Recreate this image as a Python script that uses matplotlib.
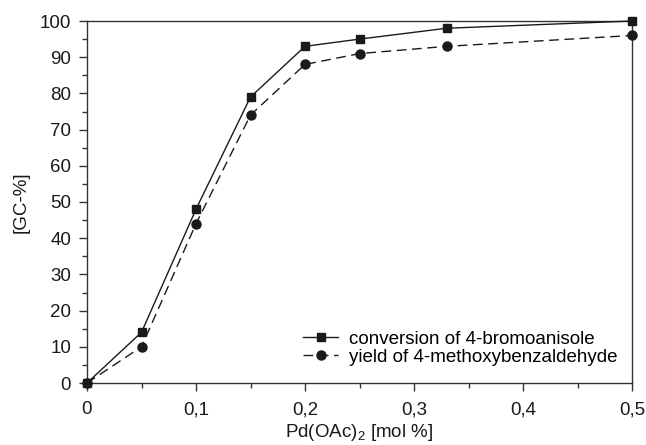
import matplotlib
matplotlib.use("Agg")
import matplotlib.pyplot as plt
from matplotlib.ticker import MultipleLocator, FuncFormatter

plt.rcParams["font.family"] = ["Liberation Sans", "DejaVu Sans"]
plt.rcParams["mathtext.fontset"] = "custom"
plt.rcParams["mathtext.rm"] = "Liberation Sans"

pd_loading = [0, 0.05, 0.1, 0.15, 0.2, 0.25, 0.33, 0.5]
conversion = [0, 14, 48, 79, 93, 95, 98, 100]
yield_ald = [0, 10, 44, 74, 88, 91, 93, 96]

W, H = 646, 445
fig = plt.figure(figsize=(W / 100, H / 100), dpi=100)
ax = fig.add_axes([87 / W, (H - 383) / H, 545 / W, 362 / H])

ink = "#1a1a1a"
ax.plot(pd_loading, conversion, color=ink, lw=1.0, marker="s", ms=5.5,
        label="conversion of 4-bromoanisole", clip_on=False, zorder=3)
ax.plot(pd_loading, yield_ald, color=ink, lw=1.0, ls=(0, (7, 4)), marker="o", ms=6.5,
        label="yield of 4-methoxybenzaldehyde", clip_on=False, zorder=3)

ax.set_xlim(0, 0.5)
ax.set_ylim(0, 100)
ax.xaxis.set_major_locator(MultipleLocator(0.1))
ax.xaxis.set_minor_locator(MultipleLocator(0.05))
ax.yaxis.set_major_locator(MultipleLocator(10))
ax.yaxis.set_minor_locator(MultipleLocator(5))
ax.xaxis.set_major_formatter(FuncFormatter(lambda v, p: "0" if abs(v) < 1e-9 else f"{v:.1f}".replace(".", ",")))

fs = 13.5
ax.tick_params(which="major", direction="out", length=6, width=1, colors="#333333",
               labelsize=fs, labelcolor=ink, pad=5.5)
ax.tick_params(axis="x", which="major", pad=7)
ax.tick_params(which="minor", direction="out", length=3.3, width=1, colors="#333333")
ax.tick_params(top=False, right=False)
for s in ax.spines.values():
    s.set_color("#333333")
    s.set_linewidth(1.0)

ax.set_xlabel(r"Pd(OAc)$\mathregular{_2}$ [mol %]", fontsize=fs, color=ink, labelpad=3)
ax.set_ylabel("[GC-%]", fontsize=fs, color=ink, labelpad=7)

leg = ax.legend(loc="center left", bbox_to_anchor=(303 / W, 97 / H), bbox_transform=fig.transFigure,
                frameon=False, fontsize=fs, handlelength=1.87, handletextpad=0.6,
                labelspacing=0.05, borderpad=0, borderaxespad=0)

fig.savefig("out.png", dpi=100)
